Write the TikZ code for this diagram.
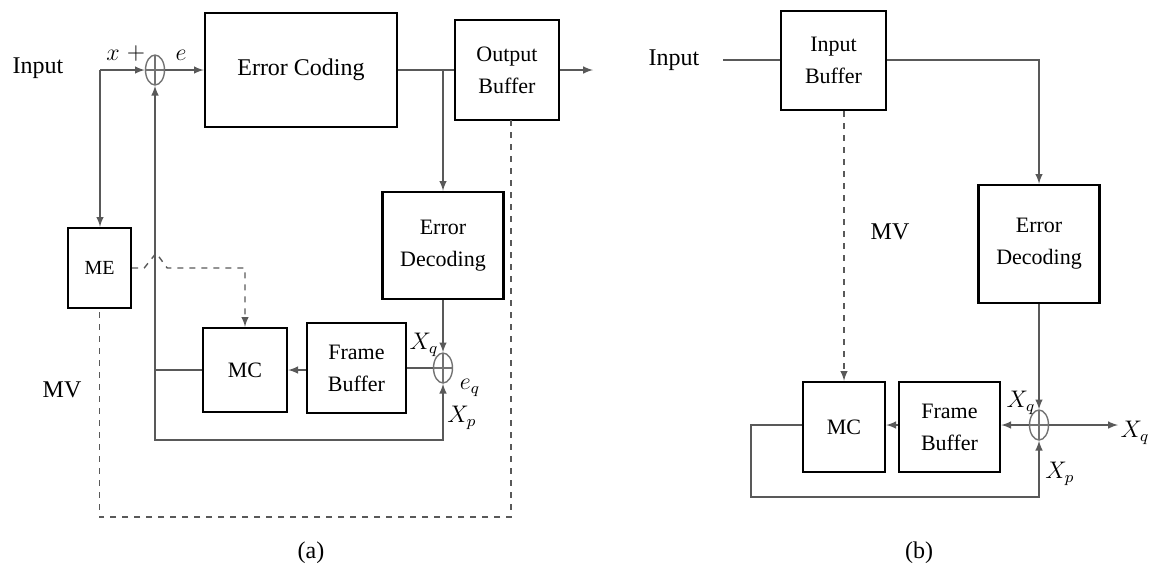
\documentclass[tikz,border=0pt]{standalone}
\usepackage{fontspec}
\setmainfont{Liberation Serif}
\usetikzlibrary{shapes.geometric}

\tikzset{
  blk/.style={draw=black, line width=1.2pt, rectangle, inner sep=0pt, align=center, font=\fontsize{11}{16}\selectfont},
  sumnode/.style={draw=black!55, line width=0.7pt, ellipse, inner sep=0pt, minimum width=9.5pt, minimum height=15pt,
    path picture={\draw[black!55, line width=0.6pt] (path picture bounding box.north) -- (path picture bounding box.south)
      (path picture bounding box.west) -- (path picture bounding box.east);}},
  conn/.style={draw=black!65, line width=0.7pt},
  lbl/.style={inner sep=0pt, font=\fontsize{12}{14}\selectfont},
}

\begin{document}
\begin{tikzpicture}[x=0.5pt, y=-0.5pt, >=latex]
  \useasboundingbox (0,0) rectangle (1149,575);

  % (a) encoder
  \node[lbl] (inlbla) at (38,68) {Input};
  \coordinate (ina) at (100,70);
  \node[sumnode] (suma) at (155,70) {};
  \node[blk, minimum width=96pt, minimum height=57pt, font=\fontsize{12}{14}\selectfont] (coding) at (301,70) {Error Coding};
  \node[blk, minimum width=52pt, minimum height=50pt] (outbuf) at (507,70) {Output\\Buffer};
  \coordinate (outa) at (593,70);
  \node[blk, minimum width=60.5pt, minimum height=53.5pt] (deca) at (443,245.5) {Error\\Decoding};
  \node[blk, minimum width=31.5pt, minimum height=40pt, font=\fontsize{10}{12}\selectfont] (me) at (99.5,268) {ME};
  \node[blk, minimum width=42pt, minimum height=42pt] (mca) at (245,370) {MC};
  \node[blk, minimum width=49.5pt, minimum height=45pt] (framea) at (356.5,368) {Frame\\Buffer};
  \node[sumnode] (suma2) at (443,368) {};
  \coordinate (dashtop) at (511,120);
  \coordinate (dashbot) at (0,517);

  \draw[conn, ->] (ina) -- (suma.west);
  \draw[conn, ->] (ina) -- (ina |- me.north);
  \draw[conn, ->] (suma.east) -- (coding.west);
  \draw[conn] (coding.east) -- (outbuf.west);
  \draw[conn, ->] (coding.east -| deca.north) -- (deca.north);
  \draw[conn, ->] (outbuf.east) -- (outa);
  \draw[conn, ->] (deca.south) -- (suma2.north);
  \draw[conn] (suma2.west) -- (framea.east |- suma2.west);
  \draw[conn, ->] (framea.west |- mca.east) -- (mca.east);
  \draw[conn, ->] (mca.west) -| (suma.south);
  \draw[conn, ->] (suma |- mca.west) -- ++(0,70) -| (suma2.south);
  \draw[conn, dashed] (dashtop) -- (dashtop |- dashbot) -| (me.south);
  \draw[conn, dashed, ->] (me.east) -- ++(12,0) -- ++(12,-15) -- ++(11,15) -| (mca.north);

  \node[lbl] (xa) at (113,55) {$x$};
  \node[lbl] (plusa) at (136,53) {$+$};
  \node[lbl] (ea) at (181,55) {$e$};
  \node[lbl] (xqa) at (424,345) {$X_q$};
  \node[lbl] (eqa) at (470,388) {$e_q$};
  \node[lbl] (xpa) at (462,418) {$X_p$};
  \node[lbl] (mva) at (62,390) {MV};
  \node[lbl] (capa) at (311,553) {(a)};

  % (b) decoder
  \node[lbl] (inlblb) at (674,60) {Input};
  \coordinate (inb) at (723,60);
  \node[blk, minimum width=52.5pt, minimum height=49.5pt] (inbuf) at (833.5,60.5) {Input\\Buffer};
  \node[blk, minimum width=60.5pt, minimum height=59pt] (decb) at (1039,244) {Error\\Decoding};
  \node[blk, minimum width=41pt, minimum height=45pt] (mcb) at (844,427) {MC};
  \node[blk, minimum width=50.5pt, minimum height=45pt] (frameb) at (949.5,427) {Frame\\Buffer};
  \node[sumnode] (sumb) at (1039,425) {};
  \coordinate (outb) at (1118,425);
  \coordinate (fbb) at (751,497);

  \draw[conn] (inb) -- (inbuf.west |- inb);
  \draw[conn, ->] (inbuf.east |- inb) -| (decb.north);
  \draw[conn, dashed, ->] (mcb.north |- inbuf.south) -- (mcb.north);
  \draw[conn, ->] (decb.south) -- (sumb.north);
  \draw[conn, ->] (sumb.west) -- (frameb.east |- sumb.west);
  \draw[conn, ->] (frameb.west |- sumb.west) -- (mcb.east |- sumb.west);
  \draw[conn, ->] (sumb.east) -- (outb);
  \draw[conn, ->] (mcb.west |- sumb.west) -| (fbb) -| (sumb.south);

  \node[lbl] (mvb) at (890,232) {MV};
  \node[lbl] (xqb) at (1021,403) {$X_q$};
  \node[lbl] (xpb) at (1060,474) {$X_p$};
  \node[lbl] (xqout) at (1135,433) {$X_q$};
  \node[lbl] (capb) at (919,553) {(b)};
\end{tikzpicture}
\end{document}
